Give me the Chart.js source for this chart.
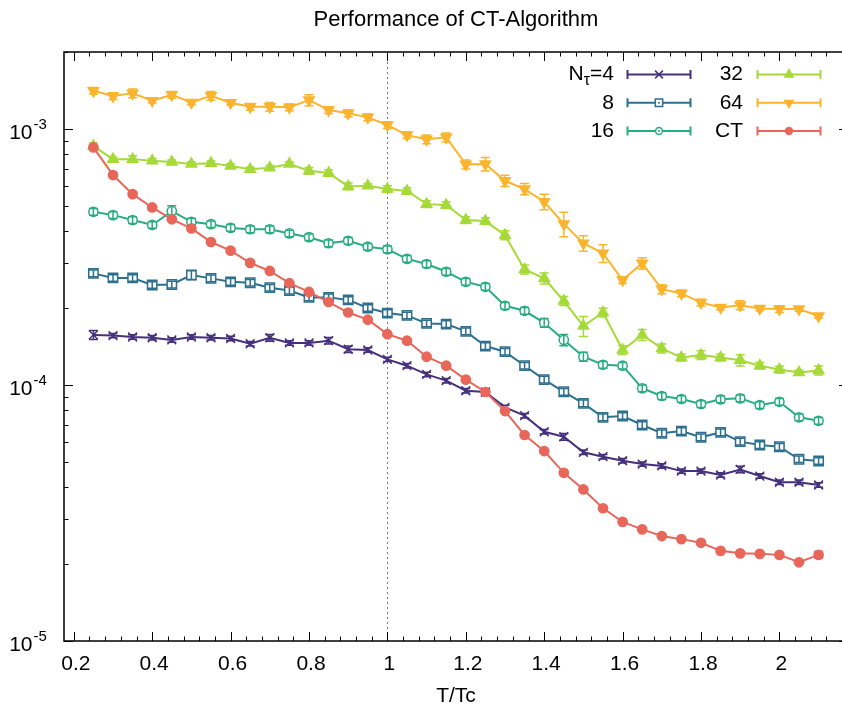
<!DOCTYPE html>
<html>
<head>
<meta charset="utf-8">
<title>Performance of CT-Algorithm</title>
<script src="https://cdn.jsdelivr.net/npm/chart.js@4.4.1/dist/chart.umd.min.js"></script>
<style>
  html, body { margin: 0; padding: 0; background: #fff; width: 842px; height: 711px; overflow: hidden; }
  #chart { display: block; }
</style>
</head>
<body>
<!-- the plot frame runs a few pixels past the right edge of the 842 px picture -->
<canvas id="chart" width="849" height="711"></canvas>
<script>
// ===== DATA =====
const tValues = [0.25, 0.30, 0.35, 0.40, 0.45, 0.50, 0.55, 0.60, 0.65, 0.70,
                 0.75, 0.80, 0.85, 0.90, 0.95, 1.00, 1.05, 1.10, 1.15, 1.20,
                 1.25, 1.30, 1.35, 1.40, 1.45, 1.50, 1.55, 1.60, 1.65, 1.70,
                 1.75, 1.80, 1.85, 1.90, 1.95, 2.00, 2.05, 2.10];

const nt4 = [1.57e-4, 1.56e-4, 1.54e-4, 1.53e-4, 1.50e-4, 1.54e-4, 1.53e-4, 1.52e-4, 1.45e-4, 1.53e-4,
             1.46e-4, 1.46e-4, 1.49e-4, 1.38e-4, 1.37e-4, 1.26e-4, 1.19e-4, 1.10e-4, 1.04e-4, 9.50e-5,
             9.39e-5, 8.18e-5, 7.59e-5, 6.57e-5, 6.28e-5, 5.46e-5, 5.25e-5, 5.06e-5, 4.91e-5, 4.83e-5,
             4.61e-5, 4.61e-5, 4.45e-5, 4.68e-5, 4.41e-5, 4.17e-5, 4.17e-5, 4.07e-5];
const nt8 = [2.73e-4, 2.62e-4, 2.62e-4, 2.46e-4, 2.47e-4, 2.69e-4, 2.61e-4, 2.53e-4, 2.51e-4, 2.40e-4,
             2.34e-4, 2.20e-4, 2.20e-4, 2.15e-4, 2.00e-4, 1.91e-4, 1.87e-4, 1.74e-4, 1.73e-4, 1.62e-4,
             1.42e-4, 1.35e-4, 1.19e-4, 1.05e-4, 9.41e-5, 8.48e-5, 7.48e-5, 7.57e-5, 6.98e-5, 6.48e-5,
             6.61e-5, 6.25e-5, 6.53e-5, 6.01e-5, 5.83e-5, 5.74e-5, 5.13e-5, 5.05e-5];
const nt16 = [4.75e-4, 4.61e-4, 4.41e-4, 4.22e-4, 4.78e-4, 4.34e-4, 4.25e-4, 4.11e-4, 4.06e-4, 4.06e-4,
              3.91e-4, 3.78e-4, 3.58e-4, 3.66e-4, 3.47e-4, 3.39e-4, 3.11e-4, 2.97e-4, 2.77e-4, 2.53e-4,
              2.42e-4, 2.04e-4, 1.95e-4, 1.75e-4, 1.50e-4, 1.29e-4, 1.20e-4, 1.19e-4, 9.71e-5, 9.06e-5,
              8.82e-5, 8.43e-5, 8.79e-5, 8.87e-5, 8.35e-5, 8.60e-5, 7.48e-5, 7.25e-5];
const nt32 = [8.58e-4, 7.63e-4, 7.63e-4, 7.52e-4, 7.43e-4, 7.30e-4, 7.36e-4, 7.17e-4, 6.96e-4, 7.06e-4,
              7.30e-4, 6.87e-4, 6.74e-4, 5.97e-4, 6.00e-4, 5.83e-4, 5.73e-4, 5.09e-4, 5.05e-4, 4.41e-4,
              4.37e-4, 3.85e-4, 2.83e-4, 2.61e-4, 2.13e-4, 1.70e-4, 1.92e-4, 1.37e-4, 1.57e-4, 1.39e-4,
              1.28e-4, 1.31e-4, 1.28e-4, 1.25e-4, 1.19e-4, 1.15e-4, 1.12e-4, 1.14e-4];
const nt64 = [1.411e-3, 1.346e-3, 1.379e-3, 1.290e-3, 1.361e-3, 1.271e-3, 1.349e-3, 1.267e-3, 1.222e-3, 1.222e-3,
              1.216e-3, 1.298e-3, 1.186e-3, 1.152e-3, 1.111e-3, 1.037e-3, 9.47e-4, 9.12e-4, 9.28e-4, 7.28e-4,
              7.30e-4, 6.28e-4, 5.83e-4, 5.20e-4, 4.26e-4, 3.58e-4, 3.27e-4, 2.57e-4, 2.99e-4, 2.37e-4,
              2.28e-4, 2.10e-4, 2.01e-4, 2.05e-4, 1.99e-4, 1.98e-4, 1.98e-4, 1.86e-4];
const ctVals = [8.48e-4, 6.61e-4, 5.57e-4, 4.94e-4, 4.44e-4, 4.09e-4, 3.62e-4, 3.35e-4, 3.00e-4, 2.79e-4,
                2.50e-4, 2.31e-4, 2.11e-4, 1.92e-4, 1.80e-4, 1.58e-4, 1.49e-4, 1.29e-4, 1.19e-4, 1.05e-4,
                9.39e-5, 7.91e-5, 6.38e-5, 5.52e-5, 4.54e-5, 3.91e-5, 3.30e-5, 2.92e-5, 2.73e-5, 2.57e-5,
                2.50e-5, 2.42e-5, 2.25e-5, 2.20e-5, 2.19e-5, 2.17e-5, 2.03e-5, 2.17e-5];

// error bars, in percent of the value
const err4 = [4, 2, 2, 2, 2, 2, 2, 2, 2, 3, 2, 2, 3, 3, 2, 2, 2, 2, 2, 2,
              3, 2, 2, 2, 3, 2, 2, 2, 2, 2, 2, 2, 2, 3, 2, 2, 2, 2];
const err8 = [3, 3, 3, 3, 3, 4, 3, 3, 3, 3, 3, 3, 3, 3, 3, 3, 3, 3, 3, 3,
              3, 3, 3, 3, 3, 3, 3, 3, 3, 3, 3, 3, 3, 3, 3, 3, 3, 3];
const err16 = [3, 3, 3, 3, 5, 3, 3, 3, 3, 3, 3, 3, 3, 3, 3, 3, 3, 3, 3, 3,
               3, 3, 3, 4, 5, 4, 3, 3, 3, 3, 3, 3, 3, 3, 3, 3, 3, 3];
const err32 = [3, 2, 3, 2, 2, 2, 2, 2, 2, 2, 2, 3, 3, 3, 2, 3, 3, 3, 3, 3,
               3, 4, 4, 5, 4, 9, 4, 4, 5, 4, 3, 4, 3, 5, 3, 3, 2, 4];
const err64 = [3, 3, 4, 2, 3, 2, 4, 2, 3, 4, 3, 5, 3, 3, 3, 3, 3, 4, 4, 4,
               6, 5, 5, 7, 11, 7, 8, 3, 5, 4, 3, 3, 2, 4, 2, 3, 2, 2];
const errCT = [1, 1, 1, 1, 1, 1, 1, 1, 1, 1, 1, 1, 1, 1, 1, 1, 1, 1, 1, 1,
               1, 1, 1, 1, 1, 1, 1, 1, 1, 1, 1, 1, 1, 1, 1, 1, 1, 3];

const seriesLabels = ['N_τ=4', '8', '16', '32', '64', 'CT'];
const xTickValues = [0.2, 0.4, 0.6, 0.8, 1, 1.2, 1.4, 1.6, 1.8, 2];
const yTickValues = [1e-5, 1e-4, 1e-3];
const yTickExponents = ['-5', '-4', '-3'];
const tcLine = 1;
const chartTitle = 'Performance of CT-Algorithm';

// ===== STYLE =====
const FONT = '"Liberation Sans", Arial, Helvetica, sans-serif';
const series = [
    { vals: nt4,    err: err4,  color: '#45307c', style: 'crossRot', rot: 0,   r: 6.2, lr: 5.5, open: false },
    { vals: nt8,    err: err8,  color: '#2d6f8e', style: 'rect',     rot: 0,   r: 6.6, lr: 5.2, open: true  },
    { vals: nt16,   err: err16, color: '#27ad81', style: 'circle',   rot: 0,   r: 4.6, lr: 3.4, open: true  },
    { vals: nt32,   err: err32, color: '#a5da38', style: 'triangle', rot: 0,   r: 6.0, lr: 4.8, open: false },
    { vals: nt64,   err: err64, color: '#fbb42d', style: 'triangle', rot: 180, r: 6.0, lr: 4.8, open: false },
    { vals: ctVals, err: errCT, color: '#e8675a', style: 'circle',   rot: 0,   r: 4.6, lr: 3.4, open: false }
];

// ===== PLUGINS =====
function drawPiece(ctx, parts, xRight, y) {
    let total = 0;
    parts.forEach(p => {
        ctx.font = p.size + 'px ' + FONT;
        p.w = ctx.measureText(p.text).width;
        total += p.w;
    });
    let x = xRight - total;
    parts.forEach(p => {
        ctx.font = p.size + 'px ' + FONT;
        ctx.fillText(p.text, x, y + p.dy);
        x += p.w;
    });
}

const framePlugin = {
    id: 'frame',
    beforeDatasetsDraw(chart) {
        const ctx = chart.ctx;
        const { left, right, top, bottom } = chart.chartArea;
        const xs = chart.scales.x, ys = chart.scales.y;
        ctx.save();

        // title, centred over the plot
        ctx.fillStyle = '#000';
        ctx.textAlign = 'center';
        ctx.textBaseline = 'middle';
        ctx.font = '22px ' + FONT;
        ctx.fillText(chartTitle, (left + right) / 2, 19.5);

        // dashed line at T = Tc
        const xc = Math.round(xs.getPixelForValue(tcLine)) + 0.5;
        ctx.strokeStyle = '#777';
        ctx.lineWidth = 1;
        ctx.setLineDash([2, 3]);
        ctx.beginPath();
        ctx.moveTo(xc, top);
        ctx.lineTo(xc, bottom);
        ctx.stroke();
        ctx.setLineDash([]);

        // ticks (inward, mirrored)
        ctx.strokeStyle = '#000';
        ctx.lineWidth = 1;
        const major = 9, minor = 4.5;
        const vTick = (x, len) => {
            x = Math.round(x) + 0.5;
            ctx.beginPath();
            ctx.moveTo(x, bottom); ctx.lineTo(x, bottom - len);
            ctx.moveTo(x, top); ctx.lineTo(x, top + len);
            ctx.stroke();
        };
        const hTick = (y, len) => {
            y = Math.round(y) + 0.5;
            ctx.beginPath();
            ctx.moveTo(left, y); ctx.lineTo(left + len, y);
            ctx.moveTo(right, y); ctx.lineTo(right - len, y);
            ctx.stroke();
        };
        const step = (xTickValues[1] - xTickValues[0]) / 5;
        for (let k = -5; k <= (xTickValues.length - 1) * 5 + 5; k++) {
            const v = xTickValues[0] + k * step;
            if (v < xs.min || v > xs.max) continue;
            vTick(xs.getPixelForValue(v), k % 5 === 0 ? major : minor);
        }
        yTickValues.forEach(d => {
            hTick(ys.getPixelForValue(d), major);
            for (let m = 2; m <= 9; m++) {
                if (m * d <= ys.max) hTick(ys.getPixelForValue(m * d), minor);
            }
        });

        // y labels 10^n
        ctx.fillStyle = '#000';
        ctx.textBaseline = 'alphabetic';
        yTickValues.forEach((d, i) => {
            const y = ys.getPixelForValue(d);
            ctx.textAlign = 'right';
            ctx.font = '21px ' + FONT;
            ctx.fillText('10', 32.5, y + 9.5);
            ctx.textAlign = 'left';
            ctx.font = '15px ' + FONT;
            ctx.fillText(yTickExponents[i], 33.5, y - 0.5);
        });

        // border
        ctx.lineWidth = 1.5;
        ctx.strokeRect(left, top, right - left, bottom - top);
        ctx.restore();
    }
};

const errorBarPlugin = {
    id: 'errorBars',
    afterDatasetDraw(chart, args) {
        const s = series[args.index];
        const ctx = chart.ctx;
        const xs = chart.scales.x, ys = chart.scales.y;
        const cap = 4.5;
        ctx.save();
        ctx.strokeStyle = s.color;
        ctx.lineWidth = 1.5;
        s.vals.forEach((v, i) => {
            const e = v * s.err[i] / 100;
            const x = xs.getPixelForValue(tValues[i]);
            const y1 = ys.getPixelForValue(v + e);
            const y2 = ys.getPixelForValue(v - e);
            ctx.beginPath();
            ctx.moveTo(x, y1); ctx.lineTo(x, y2);
            ctx.moveTo(x - cap, y1); ctx.lineTo(x + cap, y1);
            ctx.moveTo(x - cap, y2); ctx.lineTo(x + cap, y2);
            ctx.stroke();
        });
        ctx.restore();
    }
};

const legendPlugin = {
    id: 'gnuLegend',
    afterDraw(chart) {
        const ctx = chart.ctx;
        const rows = [74.5, 102.8, 131];
        const cols = [
            { textRight: 614, x1: 627.5, x2: 690.5 },
            { textRight: 743, x1: 757.5, x2: 820.5 }
        ];
        ctx.save();
        series.forEach((s, i) => {
            const col = cols[Math.floor(i / 3)];
            const y = rows[i % 3];
            // label
            ctx.fillStyle = '#000';
            ctx.textBaseline = 'middle';
            ctx.textAlign = 'left';
            const label = seriesLabels[i];
            let parts;
            if (label.indexOf('_') >= 0) {
                const [a, rest] = label.split('_');
                parts = [
                    { text: a, size: 21, dy: 0 },
                    { text: rest.charAt(0), size: 16, dy: 6 },
                    { text: rest.slice(1), size: 21, dy: 0 }
                ];
            } else {
                parts = [{ text: label, size: 21, dy: 0 }];
            }
            drawPiece(ctx, parts, col.textRight, y);

            // sample: line with error bar caps
            ctx.strokeStyle = s.color;
            ctx.lineWidth = 2;
            ctx.beginPath();
            ctx.moveTo(col.x1, y); ctx.lineTo(col.x2, y);
            ctx.moveTo(col.x1, y - 4.5); ctx.lineTo(col.x1, y + 4.5);
            ctx.moveTo(col.x2, y - 4.5); ctx.lineTo(col.x2, y + 4.5);
            ctx.stroke();

            // marker
            const mx = (col.x1 + col.x2) / 2;
            ctx.fillStyle = s.open ? '#fff' : s.color;
            ctx.lineWidth = 1.5;
            Chart.helpers.drawPoint(ctx, {
                pointStyle: s.style, radius: s.lr, rotation: s.rot, borderWidth: 1.5
            }, mx, y);
            if (s.open) {
                ctx.fillStyle = s.color;
                ctx.beginPath();
                ctx.arc(mx, y, 1, 0, Math.PI * 2);
                ctx.fill();
            }
        });
        ctx.restore();
    }
};

// ===== CHART =====
const tickFont = { family: FONT, size: 21 };

const chart = new Chart(document.getElementById('chart'), {
    type: 'line',
    data: {
        datasets: series.map((s, i) => ({
            label: seriesLabels[i],
            data: tValues.map((t, j) => ({ x: t, y: s.vals[j] })),
            borderColor: s.color,
            backgroundColor: s.open ? '#fff' : s.color,
            borderWidth: 2,
            tension: 0,
            pointStyle: s.style,
            pointRotation: s.rot,
            pointRadius: s.r,
            pointBorderWidth: 1.5,
            pointBorderColor: s.color,
            pointBackgroundColor: s.open ? '#fff' : s.color,
            order: series.length - i
        }))
    },
    options: {
        responsive: false,
        animation: false,
        devicePixelRatio: 1,
        layout: { autoPadding: false, padding: { top: 52, right: 1, bottom: 2, left: 0 } },
        plugins: {
            legend: { display: false },
            tooltip: { enabled: false },
            title: { display: false }
        },
        scales: {
            x: {
                type: 'linear',
                min: 0.175,
                max: 2.175,
                afterBuildTicks: scale => { scale.ticks = xTickValues.map(v => ({ value: v })); },
                afterFit: scale => {
                    scale.height = 68;
                    scale.paddingLeft = 0;
                    scale.paddingRight = 0;
                },
                grid: { display: false, drawTicks: false },
                border: { display: false },
                ticks: {
                    font: tickFont,
                    color: '#000',
                    padding: 11,
                    labelOffset: 2,
                    maxRotation: 0,
                    autoSkip: false,
                    callback: v => String(v)
                },
                title: {
                    display: true,
                    text: 'T/Tc',
                    color: '#000',
                    font: { family: FONT, size: 21 },
                    padding: { top: 8, bottom: 0 }
                }
            },
            y: {
                type: 'logarithmic',
                min: 1e-5,
                max: 2e-3,
                afterBuildTicks: scale => { scale.ticks = yTickValues.map(v => ({ value: v })); },
                afterFit: scale => {
                    scale.width = 64;
                    scale.paddingTop = 0;
                    scale.paddingBottom = 0;
                },
                grid: { display: false, drawTicks: false },
                border: { display: false },
                ticks: { display: false }
            }
        }
    },
    plugins: [framePlugin, errorBarPlugin, legendPlugin]
});
</script>
</body>
</html>
